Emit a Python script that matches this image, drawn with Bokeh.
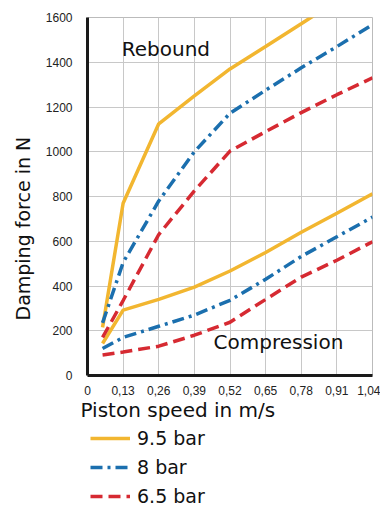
import math
from bokeh.plotting import figure
from bokeh.layouts import column
from bokeh.models import Range1d, FixedTicker, Legend, LegendItem, Label, Title
from bokeh.embed import file_html
from bokeh.resources import INLINE

# ---- data ----
x_ticks = [0, 0.13, 0.26, 0.39, 0.52, 0.65, 0.78, 0.91, 1.04]
x_tick_labels = ["0", "0,13", "0,26", "0,39", "0,52", "0,65", "0,78", "0,91", "1,04"]
y_ticks = [0, 200, 400, 600, 800, 1000, 1200, 1400, 1600]

speed = [0.055, 0.13, 0.26, 0.39, 0.52, 0.65, 0.78, 0.91, 1.04]

rebound_95 = [215, 770, 1125, 1250, 1370, 1470, 1572, 1675, 1780]
rebound_8 = [235, 505, 780, 1000, 1172, 1275, 1375, 1470, 1568]
rebound_65 = [170, 335, 630, 825, 1003, 1090, 1175, 1255, 1330]

compression_95 = [143, 292, 340, 395, 467, 550, 640, 725, 812]
compression_8 = [121, 170, 220, 270, 336, 430, 532, 620, 708]
compression_65 = [92, 105, 131, 180, 238, 340, 440, 515, 598]

series_names = ["9.5 bar", "8 bar", "6.5 bar"]
colors = ["#F2B630", "#1B6FAE", "#D62A32"]
dashes = ["solid", "12 5 3 5", "12 6"]

TICK_FONT = "Liberation Sans"
FONT = "DejaVu Sans"
TXT = "#111111"

p = figure(width=380, height=425, output_backend="svg", toolbar_location=None,
           x_range=Range1d(0, 1.04), y_range=Range1d(0, 1600),
           min_border_left=85, min_border_right=8, min_border_top=17, min_border_bottom=50)

p.outline_line_color = "#BBBBBB"
p.outline_line_width = 1
p.xgrid.grid_line_color = "#C8C8C8"
p.ygrid.grid_line_color = "#C8C8C8"
p.xgrid.grid_line_width = 1
p.ygrid.grid_line_width = 1

p.xaxis.ticker = FixedTicker(ticks=x_ticks)
p.xaxis.major_label_overrides = {t: l for t, l in zip(x_ticks, x_tick_labels)}
p.yaxis.ticker = FixedTicker(ticks=y_ticks)

for ax in (p.xaxis, p.yaxis):
    ax.axis_line_color = "#1A1A1A"
    ax.axis_line_width = 3
    ax.major_tick_line_color = None
    ax.minor_tick_line_color = None
    ax.major_label_text_font = TICK_FONT
    ax.major_label_text_font_size = "12px"
    ax.major_label_text_color = "#222222"

p.xaxis.major_label_standoff = 4
p.yaxis.major_label_standoff = 9
p.yaxis.major_label_text_baseline = "bottom"

for name, col, dash, reb, comp in zip(series_names, colors, dashes,
                                      [rebound_95, rebound_8, rebound_65],
                                      [compression_95, compression_8, compression_65]):
    p.line(speed, reb, line_color=col, line_width=3.5, line_dash=dash)
    p.line(speed, comp, line_color=col, line_width=3.5, line_dash=dash)

xtitle = Title(text="Piston speed in m/s", align="left", offset=-7, standoff=-4,
               text_font=FONT, text_font_size="20px", text_font_style="normal",
               text_color=TXT)
p.add_layout(xtitle, "below")

ytitle = Title(text="Damping force in N", align="left", offset=55, standoff=18,
               text_font=FONT, text_font_size="19px", text_font_style="normal",
               text_color=TXT)
p.add_layout(ytitle, "left")

p.add_layout(Label(x=0.125, y=1457, text="Rebound", text_font=FONT, text_font_size="20px",
                   text_baseline="alphabetic", text_color=TXT))
p.add_layout(Label(x=0.46, y=150, text="Compression", text_font=FONT, text_font_size="20px",
                   text_baseline="alphabetic", text_color=TXT))

# ---- legend strip (lines kept out of view; only the legend shows) ----
lg = figure(width=380, height=85, output_backend="svg", toolbar_location=None,
            x_range=Range1d(10, 11), y_range=Range1d(0, 1600),
            min_border_left=0, min_border_right=0, min_border_top=0, min_border_bottom=0)
lg.axis.visible = False
lg.grid.visible = False
lg.outline_line_color = None
items = []
for name, col, dash, reb in zip(series_names, colors, dashes,
                                [rebound_95, rebound_8, rebound_65]):
    r = lg.line(speed, reb, line_color=col, line_width=3.5, line_dash=dash)
    items.append(LegendItem(label=name, renderers=[r]))

legend = Legend(items=items, location=(3, 3), orientation="vertical",
                glyph_width=40, glyph_height=22, label_standoff=7,
                label_text_font=FONT, label_text_font_size="19px", label_text_color=TXT,
                label_height=22, spacing=7, padding=0, margin=0,
                background_fill_alpha=0, border_line_color=None)
lg.add_layout(legend, "center")

layout = column(p, lg, spacing=0)
open("out.html", "w").write(file_html(layout, INLINE))
